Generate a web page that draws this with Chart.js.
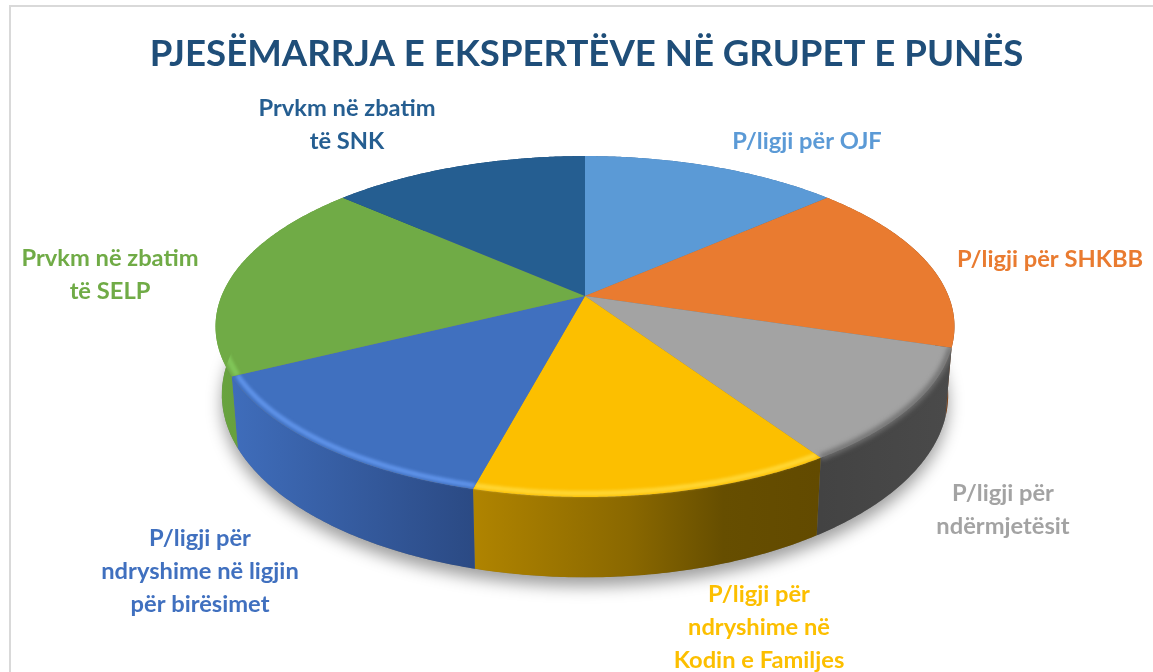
<!DOCTYPE html>
<html><head><meta charset="utf-8">
<script src="https://cdn.jsdelivr.net/npm/chart.js@4"></script>
<style>
html,body{margin:0;padding:0;background:#fff;width:1153px;height:672px;overflow:hidden}
#wrap{position:absolute;left:0;top:0;width:1153px;height:672px}
#frame{position:absolute;left:9px;top:5px;width:1160px;height:700px;border:2px solid #d9d9d9;box-sizing:border-box}
</style></head><body>
<div id="frame"></div>
<div id="wrap"><canvas id="c" width="1153" height="672"></canvas></div>
<script>
const titleText = "PJESËMARRJA E EKSPERTËVE NË GRUPET E PUNËS";
const categories = ["P/ligji për OJF","P/ligji për SHKBB","P/ligji për ndërmjetësit","P/ligji për ndryshime në Kodin e Familjes","P/ligji për ndryshime në ligjin për birësimet","Prvkm në zbatim të SELP","Prvkm në zbatim të SNK"];
const shares = [13.4,16.4,10.9,13.4,13.5,19.0,13.4];
const sliceColors = ["#5B9AD6","#E97B30","#A3A3A3","#FCBF00","#4070BF","#70AB46","#255E91"];
const labelLines = [["P/ligji për OJF"],["P/ligji për SHKBB"],["P/ligji për","ndërmjetësit"],["P/ligji për","ndryshime në","Kodin e Familjes"],["P/ligji për","ndryshime në ligjin","për birësimet"],["Prvkm në zbatim","të SELP"],["Prvkm në zbatim","të SNK"]];
const labelSpots = [[807,141],[1050,259],[1003,493],[759,594],[200,538],[110,258],[347,108]];
const labelStep = 33;
const wallStops = [
 [[0,"#3f6f9f"],[1,"#3f6f9f"]],
 [[0,"#9a5524"],[1,"#7a4119"]],
 [[0,"#434343"],[1,"#4a4a4a"]],
 [[0,"#b08400"],[0.45,"#8a6800"],[0.72,"#664e00"],[1,"#624a00"]],
 [[0,"#3f6dbb"],[1,"#2b4a84"]],
 [[0,"#69a43f"],[1,"#5c9037"]],
 [[0,"#1c4a72"],[1,"#1c4a72"]]
];
const bevels = [null,["#a65a22",3,1.0,1.5],["#6f6f6f",6,0.998,2.5],["#ffd633",5,0.985,1.8],["#5e92e8",5,0.985,1.8],["#80c558",6,0.985,1.8],null];

// perspective of the disc on the page
const CX=585, CY=296, A=363.5, B=165, Q=0.179, DROP=66, SHRINK=0.983;
function proj(u,v){const w=1-Q*v;return [CX+A*u/w, CY+B*v/w];}
function low(u,v){const w=1-Q*v;return [CX+A*SHRINK*u/w, CY+B*v/w+DROP/w];}

function projected(ctx,el){
  const R=el.outerRadius, ex=el.x, ey=el.y;
  const map=(x,y)=>proj((x-ex)/R,(y-ey)/R);
  return new Proxy(ctx,{
    get(t,k){
      if(k==='moveTo')return (x,y)=>{const p=map(x,y);t.moveTo(p[0],p[1]);};
      if(k==='lineTo')return (x,y)=>{const p=map(x,y);t.lineTo(p[0],p[1]);};
      if(k==='arc')return (x,y,r,a0,a1,ccw)=>{
        const n=96;for(let i=0;i<=n;i++){const a=a0+(a1-a0)*i/n;const p=map(x+r*Math.cos(a),y+r*Math.sin(a));t.lineTo(p[0],p[1]);}
      };
      const m=t[k];return typeof m==='function'?m.bind(t):m;
    },
    set(t,k,v){t[k]=v;return true;}
  });
}
function rimPts(a0,a1,f,scale){
  const pts=[],n=96;
  for(let i=0;i<=n;i++){const a=a0+(a1-a0)*i/n;pts.push((f||proj)(scale*Math.cos(a),scale*Math.sin(a)));}
  return pts;
}
function trace(ctx,pts,first){pts.forEach((p,i)=>{(i===0&&first)?ctx.moveTo(p[0],p[1]):ctx.lineTo(p[0],p[1]);});}

const pie3d={
  id:'pie3d',
  beforeDatasetDraw(chart){
    const ctx=chart.ctx, arcs=chart.getDatasetMeta(0).data;
    // soft shadow under the disc
    ctx.save();
    ctx.shadowColor='rgba(0,0,0,0.38)';ctx.shadowBlur=16;ctx.shadowOffsetY=9;
    ctx.fillStyle='#777';
    ctx.beginPath();trace(ctx,rimPts(0,Math.PI*2,low,1),true);ctx.closePath();ctx.fill();
    ctx.restore();
    // side wall
    arcs.forEach((el,i)=>{
      const top=rimPts(el.startAngle,el.endAngle,proj,1), bot=rimPts(el.startAngle,el.endAngle,low,1).reverse();
      const xs=top.map(p=>p[0]);
      const g=ctx.createLinearGradient(Math.min(...xs),0,Math.max(...xs),0);
      wallStops[i].forEach(s=>g.addColorStop(s[0],s[1]));
      ctx.fillStyle=g;ctx.beginPath();trace(ctx,top,true);trace(ctx,bot,false);ctx.closePath();ctx.fill();
    });
    // top faces: the library's own arc elements, seen in perspective
    arcs.forEach(el=>el.draw(projected(ctx,el)));
    // rounded edge
    arcs.forEach((el,i)=>{
      const b=bevels[i]; if(!b)return;
      ctx.save();
      const top=rimPts(el.startAngle,el.endAngle,proj,1), bot=rimPts(el.startAngle,el.endAngle,low,1);
      ctx.beginPath();ctx.moveTo(CX,CY);ctx.lineTo(top[0][0],top[0][1]);trace(ctx,bot,false);
      ctx.lineTo(top[top.length-1][0],top[top.length-1][1]);ctx.closePath();ctx.clip();
      ctx.filter='blur('+b[3]+'px)';ctx.strokeStyle=b[0];ctx.lineWidth=b[1];
      ctx.beginPath();trace(ctx,rimPts(Math.max(el.startAngle,-0.1),Math.min(el.endAngle,Math.PI+0.12+(i===5?0.5:0)),proj,b[2]),true);ctx.stroke();
      ctx.restore();
    });
    return false;
  },
  afterDraw(chart){
    const ctx=chart.ctx;
    ctx.save();ctx.textAlign='center';ctx.textBaseline='middle';ctx.font='bold 23.7px Lato';
    labelLines.forEach((lines,i)=>{
      ctx.fillStyle=sliceColors[i];
      lines.forEach((s,j)=>ctx.fillText(s,labelSpots[i][0],labelSpots[i][1]+j*labelStep));
    });
    ctx.restore();
  }
};
new Chart(document.getElementById('c'),{
  type:'pie',
  data:{labels:categories,datasets:[{data:shares,backgroundColor:sliceColors,borderWidth:0}]},
  options:{
    responsive:false,animation:false,
    layout:{padding:{left:20,top:0}},
    plugins:{
      legend:{display:false},tooltip:{enabled:false},
      title:{display:true,text:titleText,color:"#1F4E79",font:{family:"Lato",weight:"bold",size:36.6},padding:{top:32,bottom:10}}
    }
  },
  plugins:[pie3d]
});
</script></body></html>
